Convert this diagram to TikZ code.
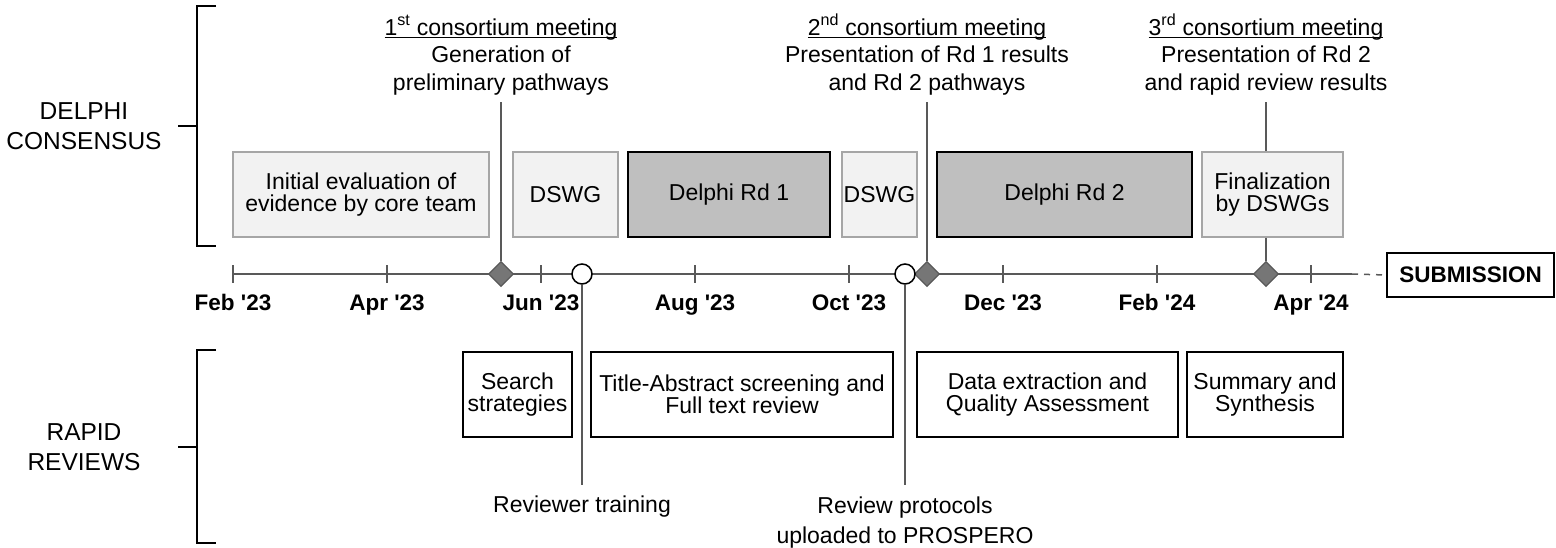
\documentclass[tikz,border=0pt]{standalone}
\usepackage{fontspec}
\setmainfont{Liberation Sans}
\usetikzlibrary{shapes.geometric}

\definecolor{boxlight}{HTML}{F2F2F2}
\definecolor{boxdark}{HTML}{BFBFBF}
\definecolor{edgelight}{HTML}{A6A6A6}
\definecolor{axisgray}{HTML}{595959}
\definecolor{markgray}{HTML}{767676}

\newsavebox\meetbox
\newcommand{\meetul}[1]{\sbox\meetbox{#1}\rlap{\rule[-3pt]{\wd\meetbox}{1.2pt}}\usebox\meetbox}

\begin{document}
\begin{tikzpicture}[x=1pt,y=-1pt,
	every node/.style={inner sep=0pt, font=\fontsize{23}{22}\selectfont},
	lightbox/.style={draw=edgelight, fill=boxlight, line width=1.5pt, minimum height=85pt, align=center},
	darkbox/.style={draw=black, fill=boxdark, line width=1.5pt, minimum height=85pt, align=center},
	plainbox/.style={draw=black, fill=white, line width=1.5pt, minimum height=85pt, align=center},
	heading/.style={anchor=base, align=center, font=\fontsize{23}{27.5}\selectfont},
	sidelabel/.style={align=center, font=\fontsize{24.5}{30}\selectfont},
	milestone/.style={diamond, draw=axisgray, fill=markgray, line width=1.2pt, minimum width=25pt, minimum height=25pt},
	checkpoint/.style={circle, draw=black, fill=white, line width=1.5pt, minimum size=20pt},
	axis/.style={draw=axisgray, line width=1.5pt},
	stem/.style={draw=axisgray, line width=1.5pt},
	bracket/.style={draw=black, line width=1.5pt}]
	
	\useasboundingbox (0,0) rectangle (1556,547);
	
	\node[sidelabel] (delphi) at (84,126) {DELPHI\\CONSENSUS};
	\node[sidelabel] (rapid) at (84,447) {RAPID\\REVIEWS};
	\draw[bracket] (216,6) -- (197,6) -- (197,246) -- (216,246);
	\draw[bracket] (178,126) -- (197,126);
	\draw[bracket] (216,350) -- (197,350) -- (197,543) -- (216,543);
	\draw[bracket] (178,447) -- (197,447);
	
	\node[lightbox, minimum width=256pt] (initial) at (361,194.5) {Initial evaluation of\\evidence by core team};
	\node[lightbox, minimum width=105pt] (dswgA) at (565.5,194.5) {DSWG};
	\node[darkbox, minimum width=202pt] (rdA) at (729,194.5) {Delphi Rd 1};
	\node[lightbox, minimum width=75pt] (dswgB) at (879.5,194.5) {DSWG};
	\node[darkbox, minimum width=255pt] (rdB) at (1064.5,194.5) {Delphi Rd 2};
	\node[lightbox, minimum width=141pt] (final) at (1272.5,194.5) {Finalization\\by DSWGs};
	
	\node[heading] (meetA) at (501,90) {\meetul{1\textsuperscript{st} consortium meeting}\\Generation of\\preliminary pathways};
	\node[heading] (meetB) at (927,90) {\meetul{2\textsuperscript{nd} consortium meeting}\\Presentation of Rd 1 results\\and Rd 2 pathways};
	\node[heading] (meetC) at (1266,90) {\meetul{3\textsuperscript{rd} consortium meeting}\\Presentation of Rd 2\\and rapid review results};
	
	\coordinate (mA) at (501,102);
	\coordinate (mB) at (927,102);
	\coordinate (mC) at (1266,102);
	\coordinate (tA) at (582,485);
	\coordinate (tB) at (905,485);
	\coordinate (axA) at (233,274);
	\coordinate (axB) at (1352,274);
	
	\node[draw=black, line width=1.5pt, minimum width=167pt, minimum height=44pt,
		font=\bfseries\fontsize{22.5}{22}\selectfont] (sub) at (1470.5,275) {SUBMISSION};
	
	\draw[axis] (axA) -- (axB);
	\draw[axis, dash pattern=on 6pt off 6pt] (axB) -- (sub.west);
	\foreach \m/\mon/\yr in {0/Feb/23, 2/Apr/23, 4/Jun/23, 6/Aug/23, 8/Oct/23, 10/Dec/23, 12/Feb/24, 14/Apr/24}{
		\pgfmathsetmacro{\x}{233+77*\m}
		\draw[axis] (\x,265) -- (\x,283);
		\node[anchor=base, font=\bfseries\fontsize{22.5}{22}\selectfont] at (\x,310) {\mon\ \textquotesingle\yr};
	}
	
	\node[milestone] (dA) at (501,274) {};
	\node[milestone] (dB) at (927,274) {};
	\node[milestone] (dC) at (1266,274) {};
	\draw[stem] (mA) -- (dA.north);
	\draw[stem] (mB) -- (dB.north);
	\draw[stem] (mC) -- (mC |- final.north);
	\draw[stem] (mC |- final.south) -- (dC.north);
	
	\node[checkpoint] (cA) at (582,274) {};
	\node[checkpoint] (cB) at (905,274) {};
	\draw[stem] (cA.south) -- (tA);
	\draw[stem] (cB.south) -- (tB);
	
	\node[plainbox, minimum width=109pt] (search) at (517.5,394.5) {Search\\strategies};
	\node[plainbox, minimum width=302pt] (screen) at (742,394.5) {Title-Abstract screening and\\Full text review};
	\node[plainbox, minimum width=261pt] (extract) at (1047.5,394.5) {Data extraction and\\Quality Assessment};
	\node[plainbox, minimum width=156pt] (synth) at (1265,394.5) {Summary and\\Synthesis};
	
	\node[anchor=base] (train) at (582,512) {Reviewer training};
	\node[anchor=base, align=center, font=\fontsize{23}{29.5}\selectfont] (proto) at (905,543) {Review protocols\\uploaded to PROSPERO};
	
\end{tikzpicture}
\end{document}
